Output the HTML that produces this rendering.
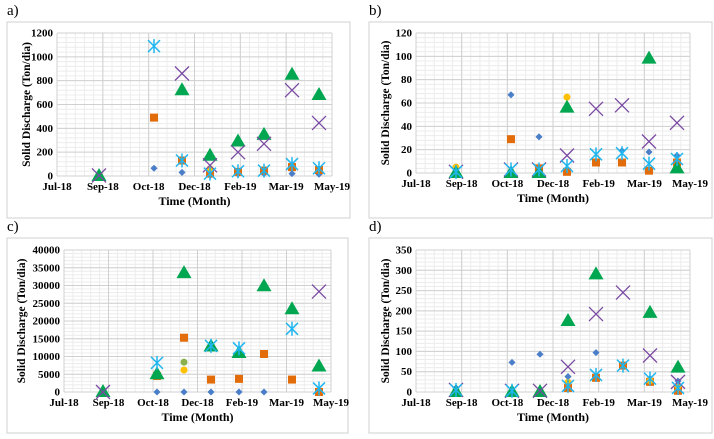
<!DOCTYPE html>
<html><head><meta charset="utf-8"><style>
body{margin:0;background:#fff;width:714px;height:439px;overflow:hidden}
svg{display:block}
svg text{font-family:"Liberation Serif","DejaVu Serif",serif}
</style></head><body>
<svg id="s" width="714" height="439" xmlns="http://www.w3.org/2000/svg"></svg>
<script>
const S=document.getElementById('s');let h='';
const C={d:'#4a7ec8',s:'#e36c0a',y:'#ffc000',g:'#8db04f',t:'#00a650',x:'#7a4ba3',a:'#1fb6f0'};
function mk(k,x,y){
 if(k=='d')return `<rect x="${x-2.5}" y="${y-2.5}" width="5" height="5" fill="${C.d}" transform="rotate(45 ${x} ${y})"/>`;
 if(k=='s')return `<rect x="${x-4}" y="${y-4}" width="8" height="8" fill="${C.s}"/>`;
 if(k=='y')return `<circle cx="${x}" cy="${y}" r="3.5" fill="${C.y}"/>`;
 if(k=='g')return `<circle cx="${x}" cy="${y}" r="3.5" fill="${C.g}"/>`;
 if(k=='t')return `<polygon points="${x},${y-8} ${x+7.5},${y+5} ${x-7.5},${y+5}" fill="${C.t}"/>`;
 if(k=='x')return `<path d="M${x-7},${y-7}L${x+7},${y+7}M${x+7},${y-7}L${x-7},${y+7}" stroke="${C.x}" stroke-width="1.3"/>`;
 if(k=='a')return `<path d="M${x-6},${y-6}L${x+6},${y+6}M${x+6},${y-6}L${x-6},${y+6}M${x},${y-7}L${x},${y+7}" stroke="${C.a}" stroke-width="1.5"/>`;
}
const months=['Jul-18','Sep-18','Oct-18','Dec-18','Feb-19','Mar-19','May-19'];
function panel(o){
 const {lab,bx,by,bw,bh,x0,x1,y0,y1,max,step,px,data}=o;
 h+=`<text x="${bx}" y="${by-7}" font-size="15">${lab}</text>`;
 h+=`<rect x="${bx}" y="${by}" width="${bw}" height="${bh}" fill="none" stroke="#d0d0d0"/>`;
 const W=x1-x0,n=6;
 for(let i=0;i<n*5;i++){const x=x0+W*i/(n*5);h+=`<line x1="${x}" y1="${y1}" x2="${x}" y2="${y0}" stroke="#ececec"/>`;}
 const nm=max/step*5;
 for(let i=0;i<nm;i++){const y=y0-(y0-y1)*i/nm;h+=`<line x1="${x0}" y1="${y}" x2="${x1}" y2="${y}" stroke="#ececec"/>`;}
 for(let i=0;i<=n;i++){const x=x0+W*i/n;h+=`<line x1="${x}" y1="${y1}" x2="${x}" y2="${y0}" stroke="#d0d0d0"/>`;
  h+=`<text x="${x}" y="${y0+14}" font-size="11" font-weight="bold" text-anchor="middle">${months[i]}</text>`;}
 for(let v=0;v<=max;v+=step){const y=y0-(y0-y1)*v/max;h+=`<line x1="${x0}" y1="${y}" x2="${x1}" y2="${y}" stroke="#d0d0d0"/>`;
  h+=`<text x="${x0-4}" y="${y+3.5}" font-size="11" font-weight="bold" text-anchor="end">${v}</text>`;}
 h+=`<text x="${(x0+x1)/2}" y="${y0+29}" font-size="12" font-weight="bold" text-anchor="middle">Time  (Month)</text>`;
 const cy=(y0+y1)/2;const tx=o.tx;
 h+=`<text x="${tx}" y="${cy}" font-size="11.5" font-weight="bold" text-anchor="middle" transform="rotate(-90 ${tx} ${cy})">Solid Discharge (Ton/dia)</text>`;
 const order='dsygtxa';
 data.forEach((pt,i)=>{for(const k of order){if(pt[k]!==undefined)h+=mk(k,px[i],y0-(y0-y1)*pt[k]/max);}});
}
panel({lab:'a)',bx:7,by:22,bw:343,bh:196,x0:57,x1:332,y0:176,y1:33,max:1200,step:200,tx:30,
 px:[99,154,182,210,238,264,292,319],
 data:[{y:10,t:0,x:5},{a:1090,s:490,d:65},{x:860,t:720,a:130,s:130,d:30},{t:170,x:90,y:60,a:20,s:20,d:5},
 {x:200,t:290,a:40,s:35,d:15},{t:345,x:270,a:45,s:45,d:20},{t:850,x:720,a:100,s:75,d:20},{t:680,x:445,a:65,s:50,d:15}]});
panel({lab:'b)',bx:369,by:22,bw:343,bh:196,x0:416,x1:690,y0:173,y1:33,max:120,step:20,tx:389,
 px:[456,511,539,567,596,622,649,677],
 data:[{y:5,t:0,x:1,a:1},{d:67,s:29,x:3,a:3,t:0},{d:31,s:4,x:3,a:3,t:0},{y:65,t:56,x:15,a:6,s:1},
 {x:55,a:16,s:9,d:10},{x:58,a:17,d:19,s:9},{t:98,x:27,d:18,a:8,s:2},{x:43,d:15,a:12,s:9,t:4}]});
panel({lab:'c)',bx:7,by:238,bw:341,bh:195,x0:64,x1:331,y0:392,y1:250,max:40000,step:5000,tx:25,
 px:[103,157,184,211,239,264,292,319],
 data:[{t:0,x:0},{a:8200,t:5000,s:4500,d:0},{t:33500,s:15300,g:8400,y:6200,d:0},{t:12800,a:13000,s:3500,d:0},
 {a:12300,t:11000,s:3700,d:0},{t:29800,s:10700,d:0},{t:23300,a:17800,s:3500},{x:28300,t:7200,a:1000,s:0}]});
panel({lab:'d)',bx:369,by:238,bw:343,bh:195,x0:416,x1:690,y0:392,y1:250,max:350,step:50,tx:389,
 px:[456,512,540,568,596,623,650,678],
 data:[{t:0,d:10,x:5,y:3,a:5},{d:73,t:0,x:3,a:3},{d:93,t:0,x:3},{t:175,x:62,d:38,y:24,a:15,s:10},
 {t:290,x:192,d:97,a:42,s:35},{x:245,a:65,s:65},{t:195,x:90,a:33,d:33,s:25,y:28},{t:60,x:25,d:27,y:15,a:10,s:3}]});
S.innerHTML=h;
</script>
</body></html>
